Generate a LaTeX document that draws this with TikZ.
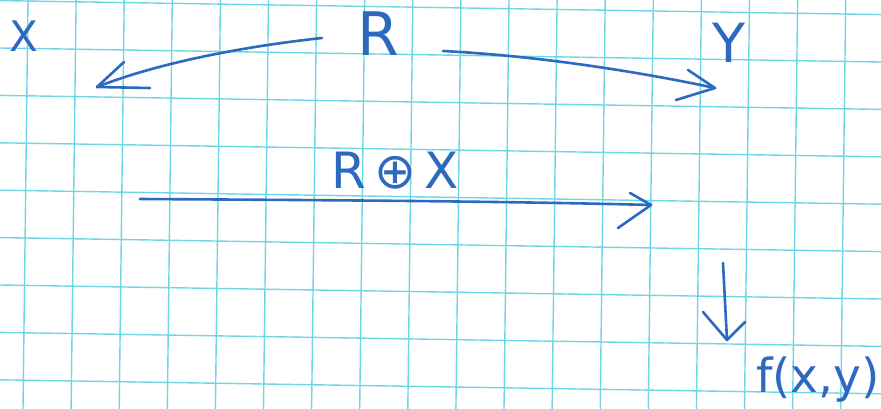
\documentclass[tikz,border=0pt]{standalone}
\usepackage{fontspec}
\setmainfont{DejaVu Sans}
\definecolor{gridc}{RGB}{110,214,228}
\definecolor{ink}{RGB}{45,105,190}
\tikzset{
  gridline/.style={draw=gridc,line width=1.4pt},
  pen/.style={draw=ink,line width=2.6pt,line cap=round,line join=round},
  hand/.style={text=ink,inner sep=0pt},
}
\begin{document}
\begin{tikzpicture}[x=1pt,y=-1pt]
\useasboundingbox (0,0) rectangle (881,409);
\fill[white] (0,0) rectangle (881,409);
% grid paper
\foreach \k in {0,...,17}{
  \pgfmathsetmacro{\xx}{28+48.1*\k}
  \draw[gridline] (\xx,0) -- (\xx-5,409);
}
\foreach \k in {0,...,8}{
  \pgfmathsetmacro{\yy}{0.6+47.4*\k}
  \draw[gridline] (0,\yy) -- (881,\yy+14);
}
% labels
\node[hand,font=\fontsize{42}{44}\selectfont] (X) at (24,36) {X};
\node[hand,font=\fontsize{60}{62}\selectfont] (R) at (378,34) {R};
\node[hand,font=\fontsize{54}{56}\selectfont] (Y) at (729,43) {Y};
\node[hand,font=\fontsize{50}{52}\selectfont] (RX) at (395,171) {R\,⊕\,X};
\node[hand,font=\fontsize{47}{49}\selectfont,anchor=east] (F) at (880,380) {f(x,y)};
% connector end points
\coordinate (a1s) at (322,38);
\coordinate (a1t) at (97,87);
\coordinate (a2s) at (443,51);
\coordinate (a2t) at (715,88);
\coordinate (a3s) at (140,199);
\coordinate (a3t) at (651,205);
\coordinate (a4s) at (723,263);
\coordinate (a4t) at (727,340);
% R -> X
\draw[pen] (a1s) .. controls (230,48) and (150,66) .. (a1t);
\draw[pen] (124,62) -- (a1t) -- (150,88);
% R -> Y
\draw[pen] (a2s) .. controls (540,56) and (640,72) .. (a2t);
\draw[pen] (688,70) -- (a2t) -- (676,100);
% R (+) X
\draw[pen] (a3s) .. controls (300,200) and (500,201) .. (a3t);
\draw[pen] (630,193) -- (a3t) -- (618,228);
% down to f(x,y)
\draw[pen] (a4s) -- (a4t);
\draw[pen] (703,312) -- (a4t) -- (745,322);
\end{tikzpicture}
\end{document}
